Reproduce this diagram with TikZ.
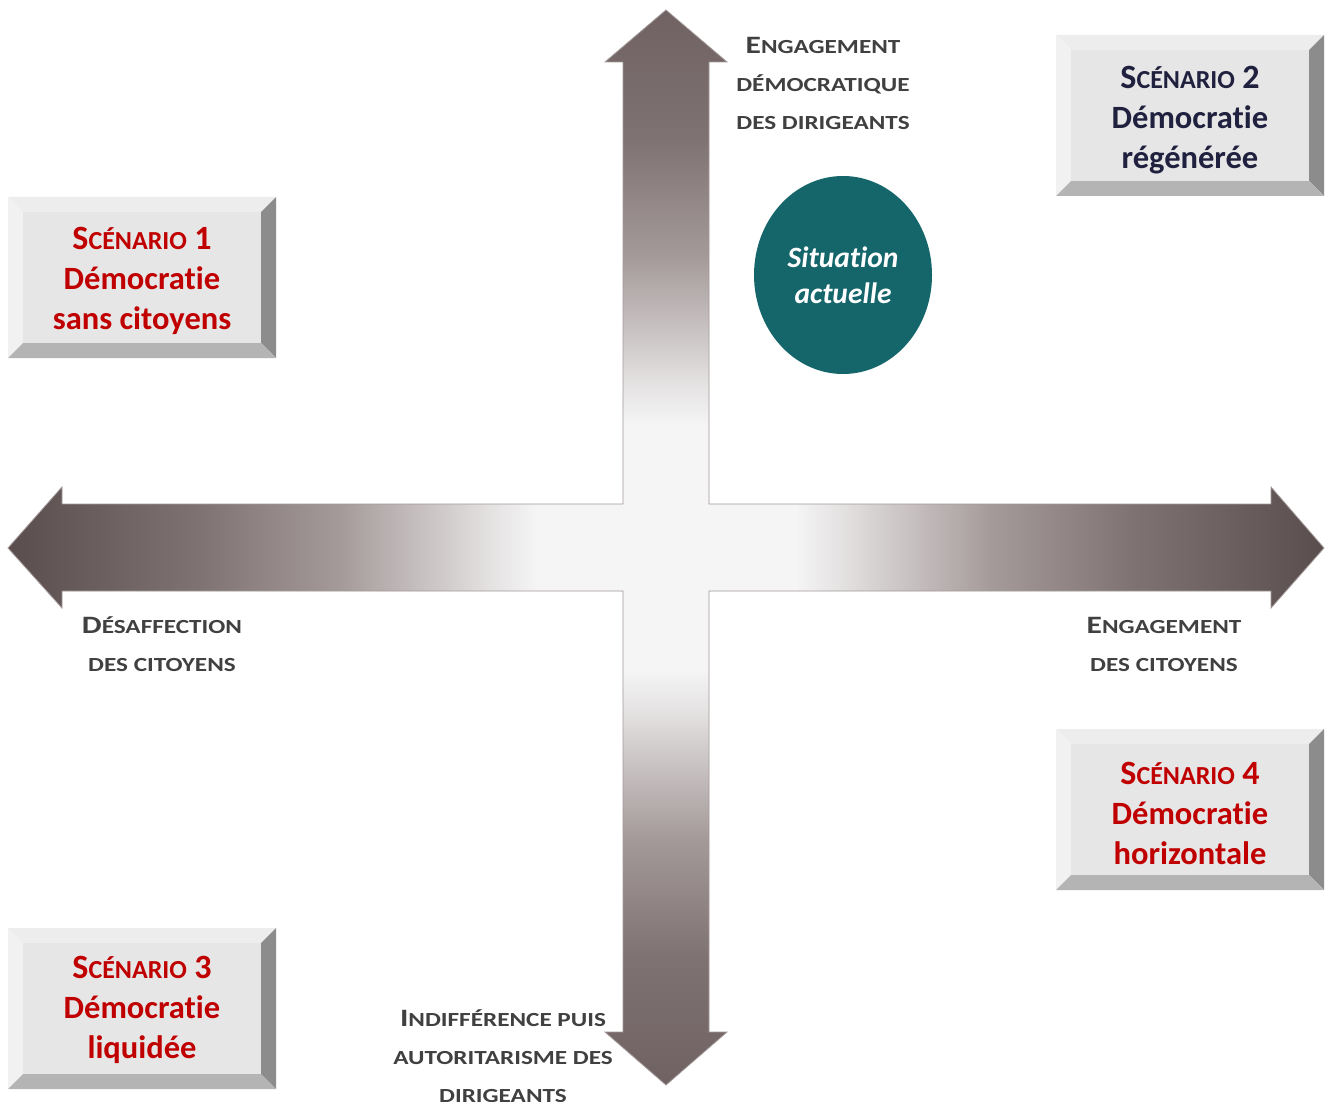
\documentclass[tikz,border=0pt]{standalone}
\usepackage{fontspec}
\setmainfont{Carlito}[Ligatures=NoCommon]
\newfontfamily\labfont{Carlito}[Ligatures=NoCommon, FakeStretch=1.26]
\usetikzlibrary{shapes.geometric}

% arrow colours
\definecolor{hd}{HTML}{5A4D4E}
\definecolor{ha}{HTML}{7F7272}
\definecolor{hb}{HTML}{A59A9A}
\definecolor{hc}{HTML}{C9C3C3}
\definecolor{he}{HTML}{E3E0E0}
\definecolor{vd}{HTML}{706263}
\definecolor{lt}{HTML}{F5F5F5}
\definecolor{crossline}{HTML}{A39999}
% box colours
\definecolor{bvface}{HTML}{E6E6E6}
\definecolor{bvtop}{HTML}{EDEDED}
\definecolor{bvleft}{HTML}{F1F1F1}
\definecolor{bvright}{HTML}{8C8C8C}
\definecolor{bvbottom}{HTML}{B4B4B4}
% text colours
\definecolor{scred}{HTML}{C00000}
\definecolor{scnavy}{HTML}{20203F}
\definecolor{labgray}{HTML}{404040}
\definecolor{sitteal}{HTML}{15666B}

% gradients of the four arms (dark at the tip, light near the centre)
\pgfdeclarehorizontalshading{armleft}{100bp}{color(0bp)=(hd); color(25bp)=(hd); color(40.5bp)=(ha); color(52bp)=(hb); color(59bp)=(hc); color(64bp)=(he); color(68bp)=(lt); color(100bp)=(lt)}
\pgfdeclarehorizontalshading{armright}{100bp}{color(0bp)=(lt); color(32bp)=(lt); color(36bp)=(he); color(41bp)=(hc); color(48bp)=(hb); color(59.5bp)=(ha); color(75bp)=(hd); color(100bp)=(hd)}
\pgfdeclareverticalshading{armtop}{100bp}{color(0bp)=(lt); color(33bp)=(lt); color(37.5bp)=(he); color(42.5bp)=(hc); color(50bp)=(hb); color(62bp)=(ha); color(75bp)=(vd); color(100bp)=(vd)}
\pgfdeclareverticalshading{armbottom}{100bp}{color(0bp)=(vd); color(25bp)=(vd); color(38bp)=(ha); color(50bp)=(hb); color(57.5bp)=(hc); color(62.5bp)=(he); color(67bp)=(lt); color(100bp)=(lt)}

% small capitals: first letter large, the rest smaller
\newcommand\labsc[2]{{\fontsize{25}{25}\selectfont #1}#2}
\newcommand\boxsc[2]{{\fontsize{34}{34}\selectfont #1}{\fontsize{26}{26}\selectfont #2}}

\begin{document}
\begin{tikzpicture}[x=1pt,y=-1pt,
  axislabel/.style={text=labgray, align=center, inner sep=0pt,
    font=\labfont\bfseries\fontsize{20}{38}\selectfont},
  scentext/.style={align=center, inner sep=0pt,
    font=\bfseries\fontsize{32.5}{40}\selectfont},
  pics/bevelbox/.style={code={
    \fill[bvtop] (0,0) -- (268,0) -- (253,15) -- (15,15) -- cycle;
    \fill[bvleft] (0,0) -- (15,15) -- (15,146) -- (0,161) -- cycle;
    \fill[bvright] (268,0) -- (268,161) -- (253,146) -- (253,15) -- cycle;
    \fill[bvbottom] (0,161) -- (268,161) -- (253,146) -- (15,146) -- cycle;
    \fill[bvface] (15,15) rectangle (253,146);
  }}]
\useasboundingbox[fill=white] (0,0) rectangle (1325,1102);

% --- the cross of two double arrows ---
\begin{scope}
  \clip (666,10) -- (727,62) -- (709,62) -- (709,504) -- (1271,504) -- (1271,487)
    -- (1324,548) -- (1271,608) -- (1271,591) -- (709,591) -- (709,1032) -- (727,1032)
    -- (666,1085) -- (605,1032) -- (623,1032) -- (623,591) -- (62,591) -- (62,608)
    -- (8,548) -- (62,487) -- (62,504) -- (623,504) -- (623,62) -- (605,62) -- cycle;
  \shade[shading=armleft] (8,487) rectangle (623,608);
  \shade[shading=armright] (709,487) rectangle (1324,608);
  \shade[shading=armtop] (605,10) rectangle (727,504);
  \shade[shading=armbottom] (605,591) rectangle (727,1085);
  \fill[lt] (622,503) rectangle (710,592);
\end{scope}
\draw[crossline, line width=0.8pt, line join=miter]
  (666,10) -- (727,62) -- (709,62) -- (709,504) -- (1271,504) -- (1271,487)
    -- (1324,548) -- (1271,608) -- (1271,591) -- (709,591) -- (709,1032) -- (727,1032)
    -- (666,1085) -- (605,1032) -- (623,1032) -- (623,591) -- (62,591) -- (62,608)
    -- (8,548) -- (62,487) -- (62,504) -- (623,504) -- (623,62) -- (605,62) -- cycle;

% --- axis labels ---
\node[axislabel] (up) at (823,83)
  {\labsc{E}{NGAGEMENT}\\D\'EMOCRATIQUE\\DES DIRIGEANTS};
\node[axislabel] (left) at (162,644) {\labsc{D}{\'ESAFFECTION}\\DES CITOYENS};
\node[axislabel] (right) at (1164,644) {\labsc{E}{NGAGEMENT}\\DES CITOYENS};
\node[axislabel] (down) at (503,1056)
  {\labsc{I}{NDIFF\'ERENCE PUIS}\\AUTORITARISME DES\\DIRIGEANTS};

% --- current situation ---
\node[ellipse, fill=sitteal, minimum width=178pt, minimum height=198pt, inner sep=0pt,
  text=white, align=center, font=\bfseries\itshape\fontsize{29.5}{36}\selectfont]
  (now) at (843,275) {Situation\\actuelle};

% --- the four scenarios ---
\pic at (8,197) {bevelbox};
\node[scentext, text=scred] (s1) at (142,281)
  {\boxsc{S}{C\'ENARIO}~{\fontsize{34}{34}\selectfont 1}\\D\'emocratie\\sans citoyens};
\pic at (1056,35) {bevelbox};
\node[scentext, text=scnavy] (s2) at (1190,120)
  {\boxsc{S}{C\'ENARIO}~{\fontsize{34}{34}\selectfont 2}\\D\'emocratie\\r\'eg\'en\'er\'ee};
\pic at (8,928) {bevelbox};
\node[scentext, text=scred] (s3) at (142,1010)
  {\boxsc{S}{C\'ENARIO}~{\fontsize{34}{34}\selectfont 3}\\D\'emocratie\\liquid\'ee};
\pic at (1056,729) {bevelbox};
\node[scentext, text=scred] (s4) at (1190,813)
  {\boxsc{S}{C\'ENARIO}~{\fontsize{34}{34}\selectfont 4}\\D\'emocratie\\horizontale};
\end{tikzpicture}
\end{document}
